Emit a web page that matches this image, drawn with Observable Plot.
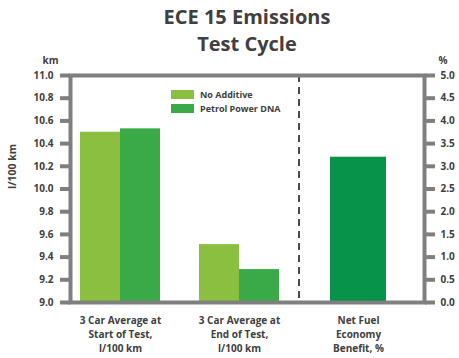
<!DOCTYPE html>
<html>
<head>
<meta charset="utf-8">
<script src="https://cdn.jsdelivr.net/npm/d3@7"></script>
<script src="https://cdn.jsdelivr.net/npm/@observablehq/plot@0.6"></script>
<style>
  body { margin: 0; background: #fff; font-family: "Open Sans", "DejaVu Sans", sans-serif; }
  #wrap { position: relative; width: 459px; height: 358px; }
  #title { box-sizing: border-box; width: 459px; padding: 3px 0 0 35px; height: 57px;
           text-align: center; font-weight: bold; font-size: 20px; line-height: 27px; color: #404040; }
  #legend { position: absolute; left: 171px; top: 87px; font-size: 9px; font-weight: bold; color: #404040; }
  #legend .row { display: flex; align-items: center; height: 14px; }
  #legend .sw { width: 23px; height: 9px; margin-right: 6px; }
</style>
</head>
<body>
<div id="wrap">
  <div id="title">ECE 15 Emissions<br>Test Cycle</div>
  <div id="chart"></div>
  <div id="legend"></div>
</div>
<script>
// ---- data ----
const categories = ["start", "end", "net"];
const categoryLabels = ["3 Car Average at\nStart of Test,\nl/100 km", "3 Car Average at\nEnd of Test,\nl/100 km", "Net Fuel\nEconomy\nBenefit, %"];
const series = ["No Additive", "Petrol Power DNA"];
const noAdditive = [10.50, 9.51];          // l/100 km, start & end
const petrolPowerDNA = [10.53, 9.29];      // l/100 km, start & end
const netBenefit = [3.2];                  // %, right axis
const leftDomain = [9, 11];
const rightDomain = [0, 5];
const leftTicks = [9.0, 9.2, 9.4, 9.6, 9.8, 10.0, 10.2, 10.4, 10.6, 10.8, 11.0];
const rightTicks = [0.0, 0.5, 1.0, 1.5, 2.0, 2.5, 3.0, 3.5, 4.0, 4.5, 5.0];
const seriesColors = ["#8bbf3f", "#3aaa49"];
const netColor = "#07944a";

// ---- derived ----
const toLeft = v => leftDomain[0] + (v - rightDomain[0]) * (leftDomain[1] - leftDomain[0]) / (rightDomain[1] - rightDomain[0]);
const fromLeft = y => rightDomain[0] + (y - leftDomain[0]) * (rightDomain[1] - rightDomain[0]) / (leftDomain[1] - leftDomain[0]);

const grouped = [];
[noAdditive, petrolPowerDNA].forEach((vals, s) => {
  vals.forEach((v, i) => grouped.push({cat: categories[i], series: series[s], value: v}));
});
const netData = netBenefit.map(v => ({cat: categories[2], value: toLeft(v)}));
const labelData = categories.map((c, i) => ({cat: c, text: categoryLabels[i]}));

const gray = "#7f7f7f";
const textColor = "#404040";
const xRange = [60.8, 417.8];
const step = (xRange[1] - xRange[0]) / categories.length;

const plot = Plot.plot({
  width: 459,
  height: 301,
  marginTop: 18,
  marginBottom: 56,
  marginLeft: 70,
  marginRight: 35,
  style: {fontFamily: "'Open Sans', 'DejaVu Sans', sans-serif", overflow: "visible"},
  x: {type: "band", domain: categories, range: xRange, paddingInner: 0.328, paddingOuter: 0.164, axis: null},
  y: {domain: leftDomain, axis: null},
  marks: [
    Plot.barY(grouped.filter(d => d.series === series[0]), {x: "cat", y1: leftDomain[0], y2: "value", fill: seriesColors[0], insetRight: 40}),
    Plot.barY(grouped.filter(d => d.series === series[1]), {x: "cat", y1: leftDomain[0], y2: "value", fill: seriesColors[1], insetLeft: 40}),
    Plot.barY(netData, {x: "cat", y1: leftDomain[0], y2: "value", fill: netColor, insetLeft: 12, insetRight: 12}),
    Plot.ruleX([categories[2]], {x: d => d, dx: -step / 2, stroke: "#111", strokeWidth: 1.5, strokeDasharray: "7,5"}),
    Plot.frame({stroke: gray, strokeWidth: 4}),
    Plot.axisY({anchor: "left", ticks: leftTicks, tickFormat: d => d.toFixed(1), tickSize: 10, tickPadding: 7,
      stroke: gray, strokeWidth: 4, fill: textColor, fontSize: 10, fontWeight: "bold", label: null}),
    Plot.axisY({anchor: "right", ticks: rightTicks.map(toLeft), tickFormat: d => fromLeft(d).toFixed(1), tickSize: 10, tickPadding: 6,
      stroke: gray, strokeWidth: 4, fill: textColor, fontSize: 10, fontWeight: "bold", label: null}),
    Plot.text(labelData, {x: "cat", text: "text", frameAnchor: "bottom", lineAnchor: "top", dy: 11, lineHeight: 1.42,
      fill: textColor, fontSize: 10, fontWeight: "bold"}),
    Plot.text(["km"], {frameAnchor: "top-left", dx: -28, dy: -19, fill: textColor, fontSize: 10, fontWeight: "bold"}),
    Plot.text(["%"], {frameAnchor: "top-right", dx: 23, dy: -19, fill: textColor, fontSize: 10, fontWeight: "bold"}),
    Plot.text(["l/100 km"], {frameAnchor: "left", rotate: -90, dx: -58, fill: textColor, fontSize: 10.5, fontWeight: "bold"})
  ]
});
document.getElementById("chart").appendChild(plot);

const legend = document.getElementById("legend");
series.forEach((s, i) => {
  const row = document.createElement("div");
  row.className = "row";
  const sw = document.createElement("span");
  sw.className = "sw";
  sw.style.background = seriesColors[i];
  const t = document.createElement("span");
  t.textContent = s;
  row.appendChild(sw);
  row.appendChild(t);
  legend.appendChild(row);
});
</script>
</body>
</html>
